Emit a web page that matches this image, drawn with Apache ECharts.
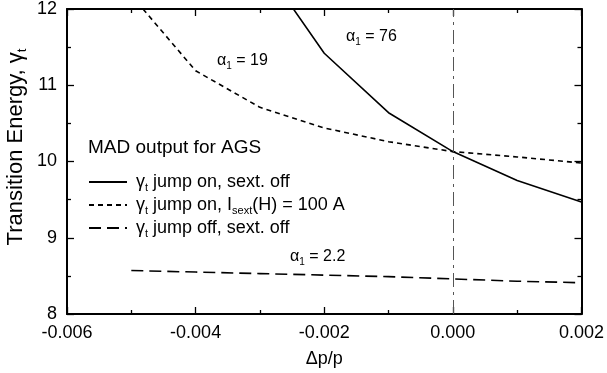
<!DOCTYPE html>
<html lang="en">
<head>
    <meta charset="UTF-8">
    <title>Transition energy vs dp/p</title>
    <style>
        html, body { margin: 0; padding: 0; background: #fff; }
        #main { width: 607px; height: 373px; }
    </style>
    <script src="https://cdn.jsdelivr.net/npm/echarts@6/dist/echarts.min.js"></script>
</head>
<body>
<div id="main"></div>
<script>
    // momentum deviation (x)
    const dpp = [-0.005, -0.004, -0.003, -0.002, -0.001, 0.000, 0.001, 0.002]
    // gamma_t for the three MAD runs
    const jumpOnSextOff = [null, null, 12.63, 11.42, 10.64, 10.13, 9.75, 9.47]
    const jumpOnSext100 = [12.18, 11.19, 10.71, 10.44, 10.26, 10.13, 10.06, 9.98]
    const jumpOffSextOff = [8.57, 8.55, 8.53, 8.51, 8.49, 8.46, 8.43, 8.41]
    const seriesNames = ['on_off', 'on_100', 'off_off']
    const xTicks = [-0.006, -0.004, -0.002, 0.000, 0.002]
    const yTicks = [8, 9, 10, 11, 12]

    const font = '"Liberation Sans", Arial, sans-serif'
    const pair = (ys) => dpp.map((x, i) => [x, ys[i]])

    // rich text pieces for the greek letter + subscript
    const rich = (size) => ({
        g: {fontFamily: font, fontSize: size, color: '#000'},
        s: {fontFamily: font, fontSize: Math.round(size * 0.6), color: '#000', padding: [Math.round(size * 0.6), 0, 0, 0]},
        t: {fontFamily: font, fontSize: size, color: '#000'}
    })
    const legendText = {
        on_off: '{g|γ}{s|t}{t| jump on, sext. off}',
        on_100: '{g|γ}{s|t}{t| jump on, I}{s|sext}{t|(H) = 100 A}',
        off_off: '{g|γ}{s|t}{t| jump off, sext. off}'
    }
    const legendTop = [173, 196, 219]

    const chart = echarts.init(document.getElementById('main'), null, {renderer: 'canvas'})

    // ticks point into the plot on all four sides
    const majorTick = () => ({show: true, inside: true, length: 7, lineStyle: {color: '#000', width: 1.3}})
    const minorTick = () => ({show: true, splitNumber: 2, length: 4, lineStyle: {color: '#000', width: 1.3}})
    const frameLine = () => ({show: true, onZero: false, lineStyle: {color: '#000', width: 2}})

    const option = {
        animation: false,
        backgroundColor: '#fff',
        textStyle: {fontFamily: font},
        title: {
            text: 'MAD output for AGS',
            left: 88, top: 138, padding: 0,
            textStyle: {fontFamily: font, fontSize: 19, fontWeight: 'normal', color: '#000'}
        },
        grid: {left: 67, right: 24, top: 7, bottom: 58, containLabel: false},
        legend: seriesNames.map((name, i) => ({
            left: 88, top: legendTop[i], padding: 0,
            itemWidth: 38, itemHeight: 14, itemGap: 0,
            data: [name],
            itemStyle: {color: 'rgba(0,0,0,0)', borderWidth: 0},
            formatter: n => legendText[n],
            textStyle: {rich: rich(18), padding: [0, 0, 0, 4]}
        })),
        xAxis: [{
            type: 'value', min: -0.006, max: 0.002, interval: 0.002,
            name: 'Δp/p', nameLocation: 'middle', nameGap: 36,
            nameTextStyle: {fontFamily: font, fontSize: 18, color: '#000'},
            axisLine: frameLine(), axisTick: majorTick(), minorTick: minorTick(),
            splitLine: {show: false}, minorSplitLine: {show: false},
            axisLabel: {
                fontFamily: font, fontSize: 18, color: '#000', margin: 10,
                formatter: v => xTicks.some(t => Math.abs(t - v) < 1e-9) ? v.toFixed(3) : ''
            }
        }, {
            type: 'value', position: 'top', min: -0.006, max: 0.002, interval: 0.002,
            axisLine: frameLine(), axisTick: majorTick(), minorTick: minorTick(),
            splitLine: {show: false}, axisLabel: {show: false}
        }],
        yAxis: [{
            type: 'value', min: 8, max: 12, interval: 1,
            axisLine: frameLine(), axisTick: majorTick(), minorTick: minorTick(),
            splitLine: {show: false},
            axisLabel: {
                fontFamily: font, fontSize: 18, color: '#000', margin: 10,
                formatter: v => yTicks.includes(v) ? String(v) : ''
            }
        }, {
            type: 'value', position: 'right', min: 8, max: 12, interval: 1,
            axisLine: frameLine(), axisTick: majorTick(), minorTick: minorTick(),
            splitLine: {show: false}, axisLabel: {show: false}
        }],
        series: [{
            name: 'on_off', type: 'line', data: pair(jumpOnSextOff),
            symbol: 'none', connectNulls: false, clip: true,
            lineStyle: {color: '#000', width: 1.6, type: 'solid'},
            itemStyle: {color: '#000'},
            markLine: {
                silent: true, symbol: 'none', label: {show: false},
                lineStyle: {color: '#555', width: 1, type: [14, 5, 3, 5]},
                data: [{xAxis: 0}]
            }
        }, {
            name: 'on_100', type: 'line', data: pair(jumpOnSext100),
            symbol: 'none', clip: true,
            lineStyle: {color: '#000', width: 1.6, type: [5, 4]},
            itemStyle: {color: '#000'}
        }, {
            name: 'off_off', type: 'line', data: pair(jumpOffSextOff),
            symbol: 'none', clip: true,
            lineStyle: {color: '#000', width: 1.6, type: [12, 6]},
            itemStyle: {color: '#000'}
        }],
        graphic: [{
            type: 'text', x: 16, y: 147, rotation: Math.PI / 2,
            style: {
                text: 'Transition Energy, {g|γ}{s|t}',
                fontFamily: font, fontSize: 22, fill: '#000',
                align: 'center', verticalAlign: 'middle',
                rich: rich(22)
            }
        }, {
            type: 'text', left: 346, top: 29,
            style: {text: '{g|α}{s|1}{t| = 76}', rich: rich(16)}
        }, {
            type: 'text', left: 217, top: 53,
            style: {text: '{g|α}{s|1}{t| = 19}', rich: rich(16)}
        }, {
            type: 'text', left: 290, top: 249,
            style: {text: '{g|α}{s|1}{t| = 2.2}', rich: rich(16)}
        }]
    }

    chart.setOption(option)
</script>
</body>
</html>
